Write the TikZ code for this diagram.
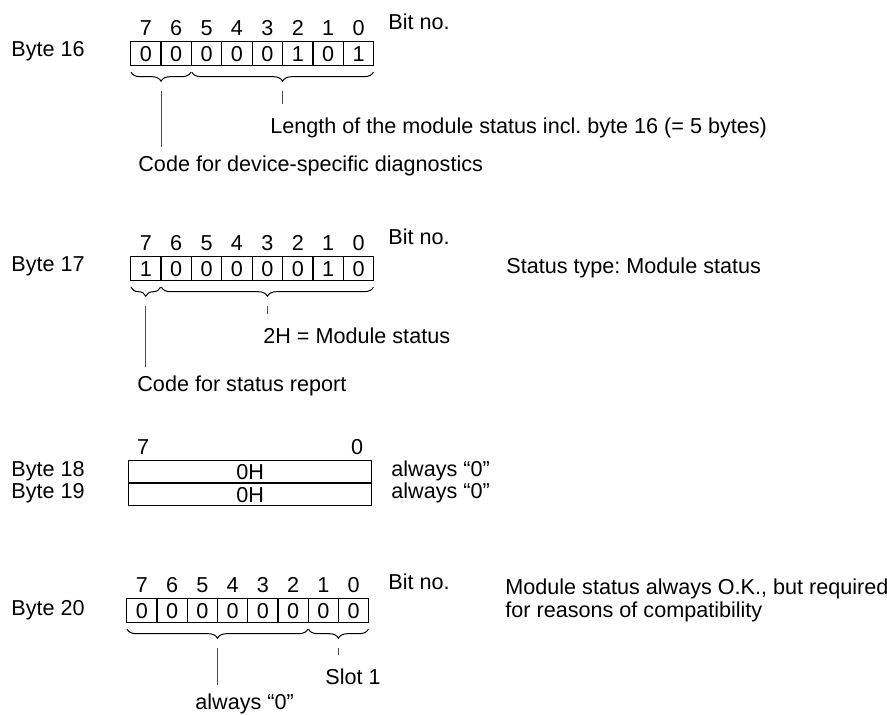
\documentclass[tikz,border=0pt]{standalone}
\usepackage{fontspec}
\setmainfont{Liberation Sans}
\usetikzlibrary{positioning, calc, decorations.pathreplacing}
\frenchspacing

\begin{document}
\begin{tikzpicture}[
  x=0.5pt, y=-0.5pt,
  font=\fontsize{10.8}{13}\selectfont,
  cell/.style={
    draw,
    line width=0.6pt,
    anchor=north west,
    inner sep=0pt,
    minimum width=15.2pt,
    minimum height=12pt
  },
  wide/.style={cell, minimum width=121.6pt, minimum height=11pt},
  bitno/.style={above=2.5pt, inner sep=0pt},
  txt/.style={anchor=west, inner sep=0pt},
  brace/.style={decorate, decoration={brace, mirror, amplitude=4.5pt}, line width=0.5pt},
  lead/.style={line width=0.5pt, black!70}
]

% --- Frame ---
\useasboundingbox (0,0) rectangle (887,715);

% --- Byte 16 ---
\node[txt] (byte16) at (11,51) {Byte 16};
\foreach \v [count=\i from 0] in {0,0,0,0,0,1,0,1}{
  \pgfmathtruncatemacro\bit{7-\i}
  \node[cell] (b16c\bit) at (130+\i*30.4,41) {\v};
  \node[bitno] at (b16c\bit.north) {\bit};
}
\node[txt] (bitno16) at (388,22) {Bit no.};

\draw[brace] ([xshift=0.5pt,yshift=-3pt]b16c7.south west) --
  coordinate[midway, yshift=-9.5pt] (t16a) ([xshift=-0.5pt,yshift=-3pt]b16c6.south east);
\draw[brace] ([xshift=0.5pt,yshift=-3pt]b16c5.south west) --
  coordinate[midway, yshift=-9.5pt] (t16b) ([xshift=-0.5pt,yshift=-3pt]b16c0.south east);

\node[txt] (len16) at (270,128) {Length of the module status incl. byte 16 (= 5 bytes)};
\node[txt] (code16) at (138,166) {Code for device-specific diagnostics};

\draw[lead, shorten >=7pt] (t16b) -- (t16b |- len16.north);
\draw[lead, shorten >=4.5pt] (t16a) -- (t16a |- code16.north);

% --- Byte 17 ---
\node[txt] (byte17) at (11,266) {Byte 17};
\foreach \v [count=\i from 0] in {1,0,0,0,0,0,1,0}{
  \pgfmathtruncatemacro\bit{7-\i}
  \node[cell] (b17c\bit) at (130+\i*30.4,256) {\v};
  \node[bitno] at (b17c\bit.north) {\bit};
}
\node[txt] (bitno17) at (388,237) {Bit no.};
\node[txt] (type17) at (506,268) {Status type: Module status};

\draw[brace] ([xshift=0.5pt,yshift=-3pt]b17c7.south west) --
  coordinate[midway, yshift=-9.5pt] (t17a) ([xshift=-0.5pt,yshift=-3pt]b17c7.south east);
\draw[brace] ([xshift=0.5pt,yshift=-3pt]b17c6.south west) --
  coordinate[midway, yshift=-9.5pt] (t17b) ([xshift=-0.5pt,yshift=-3pt]b17c0.south east);

\node[txt] (mod17) at (263,336) {2H = Module status};
\node[txt] (code17) at (137,386) {Code for status report};

\draw[lead, shorten >=7pt] (t17b) -- (t17b |- mod17.north);
\draw[lead, shorten >=4.5pt] (t17a) -- (t17a |- code17.north);

% --- Byte 18 / 19 ---
\node[wide] (b18) at (128,460) {0H};
\node[wide, below=0pt of b18] (b19) {0H};
\node[bitno] at ([xshift=7.6pt]b18.north west) {7};
\node[bitno] at ([xshift=-7.6pt]b18.north east) {0};

\node[txt] (byte18) at (11,471) {Byte 18};
\node[txt] (byte19) at (11,493) {Byte 19};
\node[txt] (zero18) at (391,471) {always “0”};
\node[txt] (zero19) at (391,493) {always “0”};

% --- Byte 20 ---
\node[txt] (byte20) at (11,610) {Byte 20};
\foreach \v [count=\i from 0] in {0,0,0,0,0,0,0,0}{
  \pgfmathtruncatemacro\bit{7-\i}
  \node[cell] (b20c\bit) at (126+\i*30.25,598) {\v};
  \node[bitno] at (b20c\bit.north) {\bit};
}
\node[txt] (bitno20) at (388,582) {Bit no.};
\node[txt, align=left, font=\fontsize{10.8}{11.5}\selectfont] (ok20) at (505,600)
  {Module status always O.K., but required\\for reasons of compatibility};

\draw[brace] ([xshift=0.5pt,yshift=-3pt]b20c7.south west) --
  coordinate[midway, yshift=-9.5pt] (t20a) ([xshift=-0.5pt,yshift=-3pt]b20c2.south east);
\draw[brace] ([xshift=0.5pt,yshift=-3pt]b20c1.south west) --
  coordinate[midway, yshift=-9.5pt] (t20b) ([xshift=-0.5pt,yshift=-3pt]b20c0.south east);

\node[txt] (slot20) at (325,677) {Slot 1};
\node[txt] (zero20) at (195,704) {always “0”};

\draw[lead, shorten >=7pt] (t20b) -- (t20b |- slot20.north);
\draw[lead, shorten >=4.5pt] (t20a) -- (t20a |- zero20.north);

\end{tikzpicture}
\end{document}
